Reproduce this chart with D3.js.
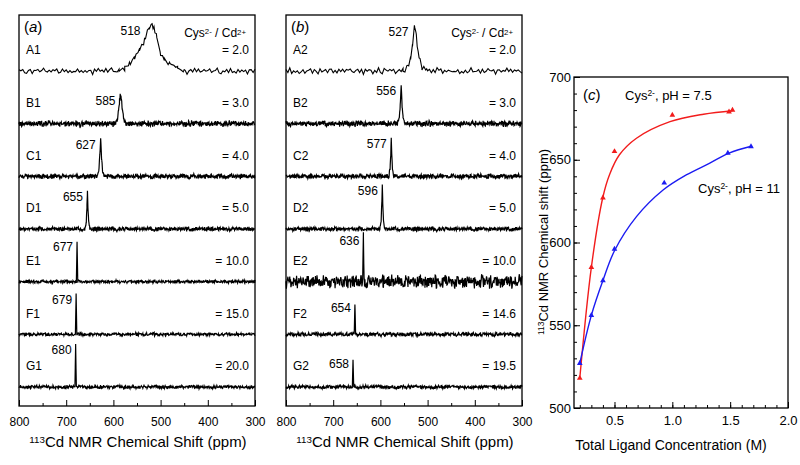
<!DOCTYPE html>
<html>
<head>
<meta charset="utf-8">
<script src="https://cdn.jsdelivr.net/npm/d3@7"></script>
<style>
  body { margin: 0; background: #fff; }
  svg { display: block; font-family: "Liberation Sans", Arial, sans-serif; }
</style>
</head>
<body>
<svg id="chart" width="800" height="465"></svg>
<script>
// ---------- data ----------
const ppmMajor = [800, 700, 600, 500, 400, 300];
const ppmMinor = [750, 650, 550, 450, 350];

const rowsA = ['A1', 'B1', 'C1', 'D1', 'E1', 'F1', 'G1'];
const ratiosA = ['2.0', '3.0', '4.0', '5.0', '10.0', '15.0', '20.0'];
const peaksA = [518, 585, 627, 655, 677, 679, 680];
const heightsA = [94, 58, 77, 77, 83, 83, 88];
const noiseAmpA = [7, 6.5, 5.5, 5, 3.5, 3.5, 4];

const rowsB = ['A2', 'B2', 'C2', 'D2', 'E2', 'F2', 'G2'];
const ratiosB = ['2.0', '3.0', '4.0', '5.0', '10.0', '14.6', '19.5'];
const peaksB = [527, 556, 577, 596, 636, 654, 658];
const heightsB = [92, 79, 79, 90, 96, 65, 58];
const noiseAmpB = [7, 6.5, 5.5, 5, 15, 4.5, 4];

// line shapes: [ppm offset from peak, fraction of peak height]
const shapeBroad = [[70, 0], [58, 0.07], [48, 0.2], [37, 0.29], [27, 0.47], [16, 0.69], [6, 0.95], [0, 1],
  [-4, 0.97], [-9, 0.8], [-17, 0.38], [-26, 0.24], [-37, 0.17], [-54, 0.07], [-68, 0]];
const shapeMid = [[25, 0], [15, 0.1], [9, 0.3], [5, 0.6], [2, 0.92], [0, 1], [-2, 0.92], [-5, 0.6], [-9, 0.3], [-15, 0.1], [-25, 0]];
const shapeNarrow = [[12, 0], [7, 0.15], [4, 0.45], [2, 0.85], [0, 1], [-2, 0.85], [-4, 0.45], [-7, 0.15], [-12, 0]];
const shapeThin = [[8, 0], [4, 0.15], [2, 0.5], [0, 1], [-2, 0.5], [-4, 0.15], [-8, 0]];
const shapeSharp = [[5, 0], [2.5, 0.2], [1, 0.6], [0, 1], [-1, 0.6], [-2.5, 0.2], [-5, 0]];
const shapeSpike = [[1.5, 0], [0, 1], [-1.5, 0]];
const shapesA = [shapeBroad, shapeNarrow, shapeThin, shapeSharp, shapeSpike, shapeSpike, shapeSpike];
const shapesB = [shapeMid, shapeThin, shapeSharp, shapeSharp, shapeSpike, shapeSpike, shapeSpike];

// baseline noise texture (hand typed)
const noise = [0.3, -0.5, 0.8, -0.2, -0.9, 0.4, 0.1, -0.6, 0.7, -0.3, 0.5, -0.8, 0.2, 0.9, -0.4, -0.1, 0.6, -0.7, 0.3, -0.2,
  0.8, -0.5, -0.9, 0.4, 0.0, 0.7, -0.3, 0.5, -0.6, 0.2, -0.8, 0.9, -0.1, 0.3, -0.4, 0.6, -0.7, 0.1, 0.5, -0.9,
  0.4, -0.2, 0.8, -0.5, 0.2, -0.3, 0.7, -0.6, 0.1, 0.9, -0.8, 0.3, -0.1, 0.5, -0.4, 0.6, -0.2, -0.7, 0.8, 0.0,
  -0.5, 0.4, -0.9, 0.2, 0.7, -0.3, 0.1, -0.6, 0.9, -0.4, 0.3, -0.8, 0.5, -0.1, 0.6, -0.2, -0.7, 0.4, 0.8, -0.5,
  0.2, -0.9, 0.7, -0.3, 0.0, 0.5, -0.6, 0.3, -0.4, 0.9, -0.1, -0.8, 0.6, 0.2, -0.5, 0.7, -0.2, 0.4, -0.7, 0.1];

// panel (c)
const concRed = [0.2, 0.3, 0.4, 0.5, 1.0, 1.49, 1.52];
const shiftRed = [518, 585, 627, 655, 677, 679, 680];
const concBlue = [0.2, 0.3, 0.4, 0.5, 0.93, 1.48, 1.68];
const shiftBlue = [527, 556, 577, 596, 636, 654, 658];
const fitRedX = [0.2, 0.3, 0.4, 0.457, 0.543, 0.69, 0.98, 1.27, 1.52];
const fitRedY = [518, 585, 627.5, 641, 653, 663, 673, 677.5, 679.6];
const fitBlueX = [0.2, 0.3, 0.4, 0.5, 0.69, 0.92, 1.12, 1.32, 1.49, 1.69];
const fitBlueY = [527, 556, 577, 595, 615.6, 631.7, 640.8, 647.8, 654, 658.3];

// ---------- drawing ----------
const svg = d3.select('#chart');
const sup = (sel, main, s, rest) => {
  sel.append('tspan').text(main);
  sel.append('tspan').attr('font-size', '0.65em').attr('dy', '-0.45em').text(s);
  if (rest) sel.append('tspan').attr('dy', '0.3em').text(rest);
};

function spectraPanel(left, right, tag, rows, ratios, peaks, heights, amps, shapes) {
  const top = 15, bottom = 406;
  const x = d3.scaleLinear().domain([800, 300]).range([left, right]);
  const base = d3.scalePoint().domain(rows).range([71, 387]);
  const g = svg.append('g');

  rows.forEach((r, i) => {
    const b = base(r);
    const y = d3.scaleLinear().domain([0, 100]).range([b, b - 48]);
    const shape = shapes[i];
    const pk = peaks[i];
    const prof = d3.scaleLinear()
      .domain(shape.map(d => pk + d[0]))
      .range(shape.map(d => d[1] * heights[i]))
      .clamp(true);
    const step = i === 0 ? 4 : 0.8;
    const stride = [1, 3, 7, 9, 11, 13, 17][i];
    const ppms = d3.range(800, 300 - 0.001, -step).concat(shape.map(d => pk + d[0]));
    ppms.sort((a, c) => c - a);
    const pts = ppms.map((p, k) => {
      const off = i * 15 + (tag === 'b' ? 40 : 0);
      const n = 0.7 * noise[(k * stride + off) % noise.length] + 0.45 * noise[(k * 13 + off * 3) % 97];
      return [p, prof(p) + n * amps[i]];
    });
    g.append('path')
      .datum(pts)
      .attr('fill', 'none')
      .attr('stroke', '#000')
      .attr('stroke-width', i === 0 ? 1.1 : 1.2)
      .attr('d', d3.line().x(d => x(d[0])).y(d => y(d[1])));

    // row label, peak label, ratio
    g.append('text').attr('x', left + 7).attr('y', b - 21).attr('dy', '0.35em')
      .attr('font-size', 12).text(r);
    const half = shape.filter(d => d[0] >= 0 && d[1] >= 0.5);
    const gap = 4 + (x(pk) - x(pk + d3.max(half, d => d[0])));
    g.append('text').attr('x', x(pk) - gap).attr('y', y(heights[i]) + 5).attr('dy', '0.35em')
      .attr('text-anchor', 'end').attr('font-size', 12).text(pk);
    g.append('text').attr('x', right - 6).attr('y', b - 21).attr('dy', '0.35em')
      .attr('text-anchor', 'end').attr('font-size', 12).text('= ' + ratios[i]);
  });

  // frame and axis
  g.append('rect').attr('x', left).attr('y', top).attr('width', right - left).attr('height', bottom - top)
    .attr('fill', 'none').attr('stroke', '#000').attr('stroke-width', 1.3);
  const ax = g.append('g').attr('transform', `translate(0,${bottom})`)
    .call(d3.axisBottom(x).tickValues(ppmMajor).tickSize(-6).tickPadding(11));
  ax.select('.domain').remove();
  ax.selectAll('text').attr('font-size', 12).attr('font-family', null);
  const axm = g.append('g').attr('transform', `translate(0,${bottom})`)
    .call(d3.axisBottom(x).tickValues(ppmMinor).tickSize(-3).tickFormat(''));
  axm.select('.domain').remove();

  g.append('text').attr('x', left + 5).attr('y', 27).attr('dy', '0.35em').attr('font-size', 15)
    .call(s => { s.append('tspan').text('('); s.append('tspan').attr('font-style', 'italic').text(tag); s.append('tspan').text(')'); });
  const cys = g.append('text').attr('x', right - 9).attr('y', 33).attr('dy', '0.35em')
    .attr('text-anchor', 'end').attr('font-size', 12);
  sup(cys, 'Cys', '2-', ' / Cd');
  cys.append('tspan').attr('font-size', '0.65em').attr('dy', '-0.3em').text('2+');

  const t = g.append('text').attr('x', (left + right) / 2 + 1).attr('y', 447).attr('dy', '0.35em')
    .attr('text-anchor', 'middle').attr('font-size', 15);
  sup(t, '', '113', 'Cd NMR Chemical Shift (ppm)');
}

spectraPanel(19, 255, 'a', rowsA, ratiosA, peaksA, heightsA, noiseAmpA, shapesA);
spectraPanel(286, 522, 'b', rowsB, ratiosB, peaksB, heightsB, noiseAmpB, shapesB);

// ---------- panel (c) ----------
const cl = 574, cr = 788, ct = 77, cb = 408;
const xC = d3.scaleLinear().domain([0.15, 2.0]).range([cl, cr]);
const yC = d3.scaleLinear().domain([500, 700]).range([cb, ct]);
const gc = svg.append('g');

gc.append('rect').attr('x', cl).attr('y', ct).attr('width', cr - cl).attr('height', cb - ct)
  .attr('fill', 'none').attr('stroke', '#000').attr('stroke-width', 1.3);

const xa = gc.append('g').attr('transform', `translate(0,${cb})`)
  .call(d3.axisBottom(xC).tickValues(xC.ticks(4)).tickSize(-6).tickPadding(8).tickFormat(d3.format('.1f')));
xa.select('.domain').remove();
xa.selectAll('text').attr('font-size', 13).attr('font-family', null);
gc.append('g').attr('transform', `translate(0,${cb})`)
  .call(d3.axisBottom(xC).tickValues(xC.ticks(20)).tickSize(-3).tickFormat(''))
  .select('.domain').remove();

const ya = gc.append('g').attr('transform', `translate(${cl},0)`)
  .call(d3.axisLeft(yC).tickValues(yC.ticks(4)).tickSize(-6).tickPadding(3));
ya.select('.domain').remove();
ya.selectAll('text').attr('font-size', 13).attr('font-family', null);
gc.append('g').attr('transform', `translate(${cl},0)`)
  .call(d3.axisLeft(yC).tickValues(yC.ticks(20)).tickSize(-3).tickFormat(''))
  .select('.domain').remove();

const series = [
  { color: '#f21c1c', fx: fitRedX, fy: fitRedY, px: concRed, py: shiftRed },
  { color: '#1c1cf2', fx: fitBlueX, fy: fitBlueY, px: concBlue, py: shiftBlue }
];
const fitLine = d3.line().x(d => xC(d[0])).y(d => yC(d[1])).curve(d3.curveCatmullRom.alpha(0.5));
series.forEach(s => {
  gc.append('path')
    .datum(d3.zip(s.fx, s.fy))
    .attr('fill', 'none')
    .attr('stroke', s.color)
    .attr('stroke-width', 1.4)
    .attr('d', fitLine);
  gc.selectAll(null)
    .data(d3.zip(s.px, s.py))
    .enter()
    .append('path')
    .attr('d', d3.symbol(d3.symbolTriangle, 14))
    .attr('fill', s.color)
    .attr('transform', d => `translate(${xC(d[0])},${yC(d[1])})`);
});

gc.append('text').attr('x', 583).attr('y', 95).attr('dy', '0.35em').attr('font-size', 15)
  .call(s => { s.append('tspan').text('('); s.append('tspan').attr('font-style', 'italic').text('c'); s.append('tspan').text(')'); });
const l1 = gc.append('text').attr('x', 625).attr('y', 95).attr('dy', '0.35em').attr('font-size', 13);
sup(l1, 'Cys', '2-', ', pH = 7.5');
const l2 = gc.append('text').attr('x', 698).attr('y', 188).attr('dy', '0.35em').attr('font-size', 13);
sup(l2, 'Cys', '2-', ', pH = 11');

gc.append('text').attr('x', 671).attr('y', 445).attr('dy', '0.35em')
  .attr('text-anchor', 'middle').attr('font-size', 14).text('Total Ligand Concentration (M)');
const yt = gc.append('text').attr('transform', 'translate(548,242) rotate(-90)').attr('dy', '0.35em')
  .attr('text-anchor', 'middle').attr('font-size', 13);
sup(yt, '', '113', 'Cd NMR Chemical shift (ppm)');
</script>
</body>
</html>
